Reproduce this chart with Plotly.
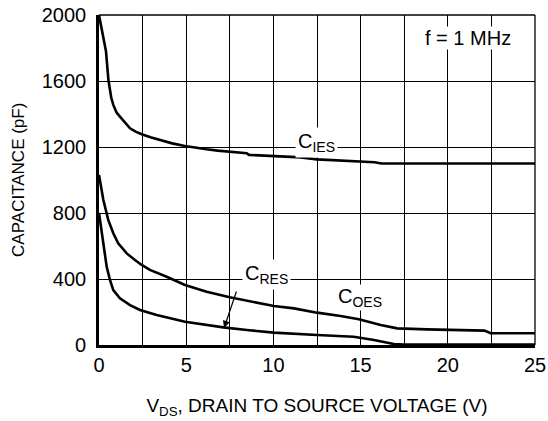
import plotly.graph_objects as go

# Capacitance vs drain-to-source voltage, f = 1 MHz
vds_ies = [0, 0.2, 0.4, 0.54, 0.7, 0.82, 1.0, 1.2, 1.5, 1.78, 2.1, 2.45, 3.0, 3.5, 4.2,
           4.93, 5.5, 6.17, 6.8, 7.47, 8.47, 8.6, 10.0, 11.0, 11.56, 12.5, 13.5, 14.4,
           15.4, 15.8, 16.2, 20, 25]
c_ies = [2000, 1900, 1780, 1606, 1500, 1455, 1410, 1384, 1345, 1313, 1293, 1277, 1258,
         1242, 1222, 1206, 1196, 1186, 1178, 1172, 1162, 1152, 1147, 1142, 1137, 1125,
         1120, 1117, 1112, 1108, 1100, 1100, 1100]

vds_oes = [0, 0.25, 0.53, 0.82, 1.1, 1.59, 2.06, 2.45, 2.92, 3.88, 4.93, 6.17, 7.5, 8.66,
           10.03, 11.18, 12.5, 13.85, 14.9, 16.15, 17.1, 18.8, 22.1, 22.46, 25]
c_oes = [1030, 879, 758, 677, 616, 555, 515, 485, 455, 414, 364, 323, 289, 264, 236, 222,
         196, 176, 156, 121, 101, 95, 87, 71, 71]

vds_res = [0, 0.06, 0.25, 0.44, 0.63, 0.82, 1.2, 1.78, 2.35, 3.31, 4.93, 6.17, 7.13, 8.47,
           10.03, 12.5, 14.6, 15.77, 16.9, 17.5, 25]
c_res = [800, 758, 616, 475, 394, 333, 283, 242, 212, 182, 141, 121, 107, 91, 75, 61, 50,
         30, 6, 3, 3]

x_ticks = [0, 5, 10, 15, 20, 25]
y_ticks = [0, 400, 800, 1200, 1600, 2000]

FONT = "Liberation Sans, Arial, Helvetica, sans-serif"
line_style = dict(color="black", width=2.6)

fig = go.Figure()
for xs, ys, name in [(vds_ies, c_ies, "CIES"), (vds_oes, c_oes, "COES"), (vds_res, c_res, "CRES")]:
    fig.add_trace(go.Scatter(x=xs, y=ys, mode="lines", line=line_style, name=name,
                             showlegend=False, hoverinfo="skip"))

label_font = dict(family=FONT, size=20, color="black")
annotations = [
    dict(x=21.13, y=1858, text="f = 1 MHz", showarrow=False, font=label_font,
         bgcolor="white", borderpad=0),
    dict(x=12.48, y=1225, text="C<sub>IES</sub>", showarrow=False, font=label_font,
         bgcolor="white", borderpad=2),
    dict(x=9.62, y=425, text="C<sub>RES</sub>", showarrow=False, font=label_font,
         bgcolor="white", borderpad=2),
    dict(x=14.97, y=290, text="C<sub>OES</sub>", showarrow=False, font=label_font,
         bgcolor="white", borderpad=0),
    # pointer from the CRES label down to its curve
    dict(x=7.17, y=103, ax=7.91, ay=333, axref="x", ayref="y", xref="x", yref="y",
         text="", showarrow=True, arrowhead=2, arrowsize=1.2, arrowwidth=1.2,
         arrowcolor="black", standoff=0),
    # y-axis title
    dict(x=-0.186, y=0.5, xref="paper", yref="paper", xanchor="center", yanchor="middle",
         text="CAPACITANCE (pF)", textangle=-90, showarrow=False,
         font=dict(family=FONT, size=17, color="black")),
]

fig.update_layout(
    width=548, height=421,
    margin=dict(l=99, r=13, t=15, b=76),
    paper_bgcolor="white", plot_bgcolor="white",
    font=dict(family=FONT, size=20, color="black"),
    annotations=annotations,
    shapes=[
        dict(type="line", xref="paper", yref="paper", x0=0, x1=1, y0=1, y1=1,
             line=dict(color="black", width=1.3)),
        dict(type="line", xref="paper", yref="paper", x0=1, x1=1, y0=0, y1=1,
             line=dict(color="black", width=1.3)),
    ],
)

fig.update_xaxes(
    range=[0, 25], tickvals=x_ticks, ticktext=[str(v) for v in x_ticks],
    showgrid=True, gridcolor="black", gridwidth=1,
    minor=dict(dtick=2.5, showgrid=True, gridcolor="black", gridwidth=1),
    showline=True, linecolor="black", linewidth=2.6, zeroline=False,
    ticks="", ticklabelstandoff=0, automargin=False,
    tickfont=dict(family=FONT, size=20),
    title=dict(text="V<sub>DS</sub>, DRAIN TO SOURCE VOLTAGE (V)",
               font=dict(family=FONT, size=19), standoff=24),
)
fig.update_yaxes(
    range=[0, 2000], tickvals=y_ticks, ticktext=[str(v) for v in y_ticks],
    showgrid=True, gridcolor="black", gridwidth=1,
    showline=True, linecolor="black", linewidth=2.6, zeroline=False,
    ticks="", ticklabelstandoff=6, automargin=False,
    tickfont=dict(family=FONT, size=20),
)

fig.write_html("out.html")
